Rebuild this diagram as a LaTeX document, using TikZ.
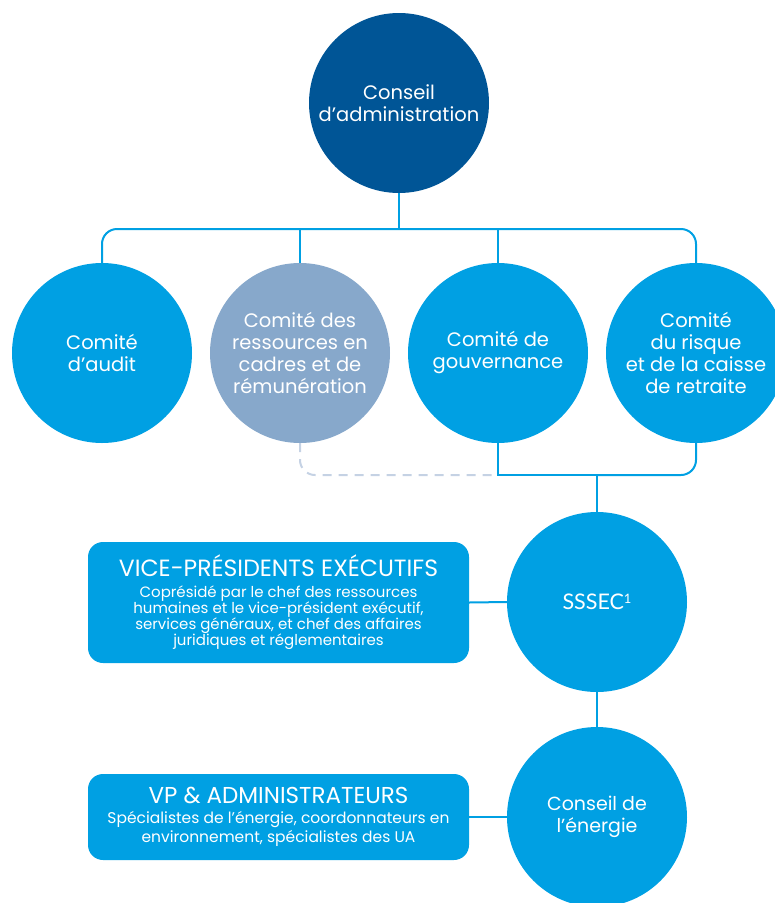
\documentclass[tikz,border=0pt]{standalone}
\usepackage{fontspec}
\setmainfont{Poppins}
\newfontfamily\latofont{Lato}
\definecolor{darkb}{RGB}{0,85,150}
\definecolor{cyanb}{RGB}{0,160,227}
\definecolor{grayb}{RGB}{135,168,203}
\definecolor{dashg}{RGB}{197,210,228}
\begin{document}
\begin{tikzpicture}[x=1pt,y=-1pt,
  circ/.style={circle, minimum size=180pt, inner sep=0pt, align=center, text=white, font=\fontsize{19.5}{22}\selectfont},
  lightc/.style={circ, fill=cyanb},
  conn/.style={draw=cyanb, line width=2pt},
  dconn/.style={draw=dashg, line width=2pt, dash pattern=on 9pt off 7pt},
  box/.style={rectangle, rounded corners=15pt, fill=cyanb, text=white, align=center, inner sep=0pt, minimum width=381pt}]
\useasboundingbox (0,0) rectangle (775,903);

\node[circ, fill=darkb] (board) at (399,103) {Conseil\\d’administration};
\node[lightc] (audit) at (102,353) {Comité\\d’audit};
\node[circ, fill=grayb] (rh) at (300,353) {Comité des\\ressources en\\cadres et de\\rémunération};
\node[lightc] (gouv) at (498,353) {Comité de\\gouvernance};
\node[lightc] (risk) at (696,353) {Comité\\du risque\\et de la caisse\\de retraite};
\node[lightc, font=\latofont\fontsize{21.5}{24}\selectfont] (sssec) at (597,602) {SSSEC\raisebox{6pt}{\fontsize{13}{13}\selectfont 1}};
\node[lightc, font=\fontsize{19}{22}\selectfont] (energy) at (597,817) {Conseil de\\l’énergie};

\node[box, minimum height=121pt, font=\fontsize{15}{16}\selectfont] (vpe) at (278.5,602.5)
  {{\fontsize{23.5}{24}\selectfont VICE-PRÉSIDENTS EXÉCUTIFS}\\[5pt]
   Coprésidé par le chef des ressources\\
   humaines et le vice-président exécutif,\\
   services généraux, et chef des affaires\\
   juridiques et réglementaires};
\node[box, minimum height=86pt, font=\fontsize{15.5}{19}\selectfont] (vpa) at (278.5,817)
  {{\fontsize{23}{24}\selectfont VP \& ADMINISTRATEURS}\\[1pt]
   Spécialistes de l’énergie, coordonnateurs en\\
   environnement, spécialistes des UA};

\coordinate (bar) at (399,229);
\coordinate (bar2) at (597,475);
\draw[conn] (board.south) -- (bar);
\draw[conn, rounded corners=15pt] (audit.north) |- (bar) -| (risk.north);
\draw[conn] (rh.north) -- (rh.north |- bar);
\draw[conn] (gouv.north) -- (gouv.north |- bar);
\draw[conn] (gouv.south) |- (bar2);
\draw[conn, rounded corners=15pt] (bar2) -| (risk.south);
\draw[conn] (bar2) -- (sssec.north);
\draw[dconn, rounded corners=15pt] (rh.south) |- (gouv.south |- bar2);
\draw[conn] (vpe.east) -- (sssec.west);
\draw[conn] (sssec.south) -- (energy.north);
\draw[conn] (vpa.east) -- (energy.west);
\end{tikzpicture}
\end{document}
